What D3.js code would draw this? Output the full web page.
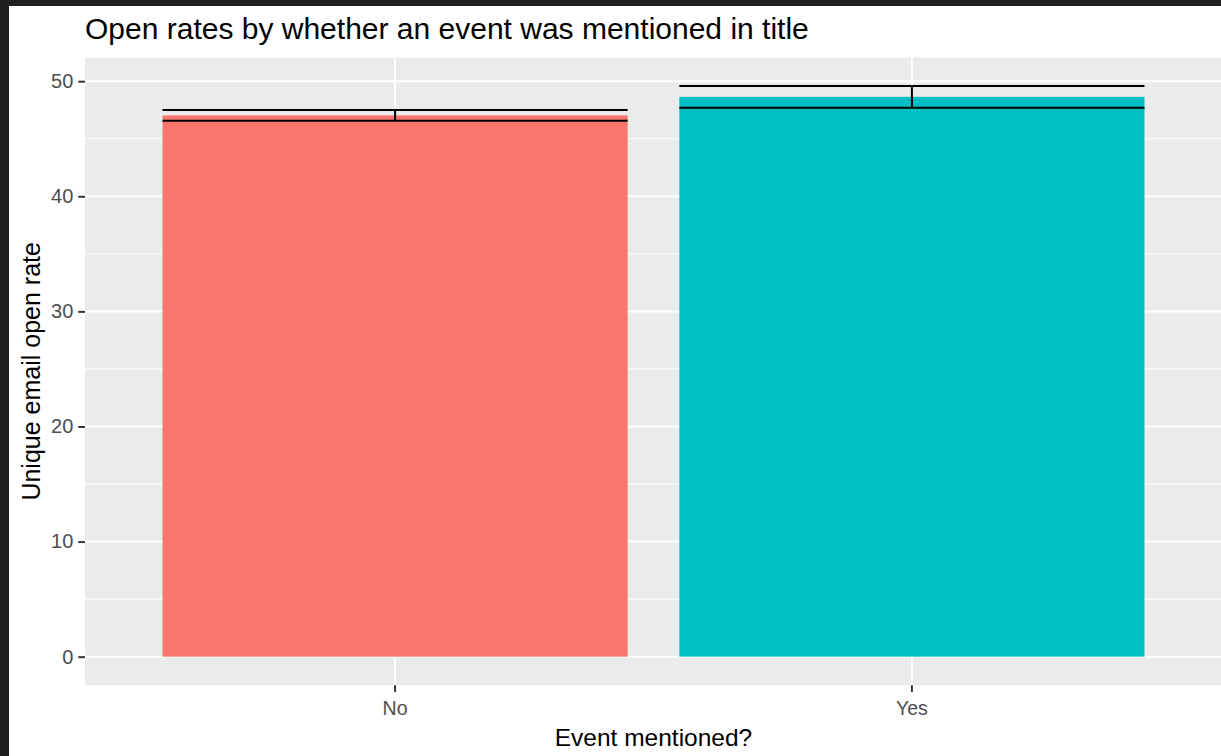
<!DOCTYPE html>
<html>
<head>
<meta charset="utf-8">
<script src="https://cdn.jsdelivr.net/npm/d3@7"></script>
<style>
  html, body { margin: 0; padding: 0; background: #fff; }
  svg { display: block; }
  text { font-family: "Liberation Sans", Arial, sans-serif; }
</style>
</head>
<body>
<svg id="chart" width="1221" height="756"></svg>
<script>
// ---- data ----
const categories = ["No", "Yes"];
const meanValues = [47.03, 48.64];
const errorValues = [0.46, 0.94];
const barColors = ["#F8766D", "#00BFC4"];
const yTicks = [0, 10, 20, 30, 40, 50];
const yMinorTicks = [5, 15, 25, 35, 45];
const titleText = "Open rates by whether an event was mentioned in title";
const xTitle = "Event mentioned?";
const yTitle = "Unique email open rate";

// ---- layout ----
const W = 1221, H = 756;
const panel = { left: 85, right: 1222, top: 57.5, bottom: 685.2 };

const svg = d3.select("#chart");

// background + dark frame strips
svg.append("rect").attr("x", 0).attr("y", 0).attr("width", W).attr("height", H).attr("fill", "#ffffff");
svg.append("rect").attr("x", 0).attr("y", 0).attr("width", W).attr("height", 6).attr("fill", "#1f1f1f");
svg.append("rect").attr("x", 0).attr("y", 0).attr("width", 9).attr("height", H).attr("fill", "#1f1f1f");

// scales
const upper = meanValues.map((m, i) => m + errorValues[i]);
const yMax = d3.max(upper);
const pad = yMax * 0.05;
const y = d3.scaleLinear().domain([0 - pad, yMax + pad]).range([panel.bottom, panel.top]);
const x = d3.scaleBand().domain(categories).range([panel.left, panel.right])
  .paddingInner(0.1).paddingOuter(0.15);

// panel
svg.append("rect")
  .attr("x", panel.left).attr("y", panel.top)
  .attr("width", panel.right - panel.left).attr("height", panel.bottom - panel.top)
  .attr("fill", "#EBEBEB");

// minor grid
svg.append("g").selectAll("line").data(yMinorTicks).join("line")
  .attr("x1", panel.left).attr("x2", panel.right)
  .attr("y1", d => y(d)).attr("y2", d => y(d))
  .attr("stroke", "#ffffff").attr("stroke-width", 1);

// major grid
svg.append("g").selectAll("line").data(yTicks).join("line")
  .attr("x1", panel.left).attr("x2", panel.right)
  .attr("y1", d => y(d)).attr("y2", d => y(d))
  .attr("stroke", "#ffffff").attr("stroke-width", 2);

svg.append("g").selectAll("line").data(categories).join("line")
  .attr("x1", d => x(d) + x.bandwidth() / 2).attr("x2", d => x(d) + x.bandwidth() / 2)
  .attr("y1", panel.top).attr("y2", panel.bottom)
  .attr("stroke", "#ffffff").attr("stroke-width", 2);

// bars
svg.append("g").selectAll("rect").data(categories).join("rect")
  .attr("x", d => x(d))
  .attr("width", x.bandwidth())
  .attr("y", (d, i) => y(meanValues[i]))
  .attr("height", (d, i) => y(0) - y(meanValues[i]))
  .attr("fill", (d, i) => barColors[i]);

// error bars
const eb = svg.append("g").attr("stroke", "#000").attr("stroke-width", 2).attr("fill", "none");
categories.forEach((c, i) => {
  const x0 = x(c), x1 = x(c) + x.bandwidth(), xc = x(c) + x.bandwidth() / 2;
  const yHi = y(meanValues[i] + errorValues[i]);
  const yLo = y(meanValues[i] - errorValues[i]);
  eb.append("line").attr("x1", x0).attr("x2", x1).attr("y1", yHi).attr("y2", yHi);
  eb.append("line").attr("x1", x0).attr("x2", x1).attr("y1", yLo).attr("y2", yLo);
  eb.append("line").attr("x1", xc).attr("x2", xc).attr("y1", yHi).attr("y2", yLo);
});

// y axis
const yAxis = d3.axisLeft(y).tickValues(yTicks).tickSize(6.7).tickPadding(5);
const gy = svg.append("g").attr("transform", `translate(${panel.left},0)`).call(yAxis);
gy.select(".domain").remove();
gy.selectAll(".tick line").attr("stroke", "#333333").attr("stroke-width", 2);
gy.selectAll(".tick text").attr("fill", "#4D4D4D").style("font-size", "20px")
  .style("font-family", "'Liberation Sans', Arial, sans-serif");

// x axis
const xAxis = d3.axisBottom(x).tickSize(6.7).tickPadding(9);
const gx = svg.append("g").attr("transform", `translate(0,${panel.bottom})`).call(xAxis);
gx.select(".domain").remove();
gx.selectAll(".tick line").attr("stroke", "#333333").attr("stroke-width", 2);
gx.selectAll(".tick text").attr("fill", "#4D4D4D").style("font-size", "19.5px")
  .style("font-family", "'Liberation Sans', Arial, sans-serif");

// title
svg.append("text")
  .attr("x", panel.left).attr("y", 38.5)
  .attr("fill", "#000").style("font-size", "30px")
  .text(titleText);

// axis titles
svg.append("text")
  .attr("x", (panel.left + panel.right) / 2).attr("y", 745.7)
  .attr("text-anchor", "middle").attr("fill", "#000").style("font-size", "24.5px")
  .text(xTitle);

svg.append("text")
  .attr("transform", `translate(39.5,${(panel.top + panel.bottom) / 2}) rotate(-90)`)
  .attr("text-anchor", "middle").attr("fill", "#000").style("font-size", "25px")
  .text(yTitle);
</script>
</body>
</html>
